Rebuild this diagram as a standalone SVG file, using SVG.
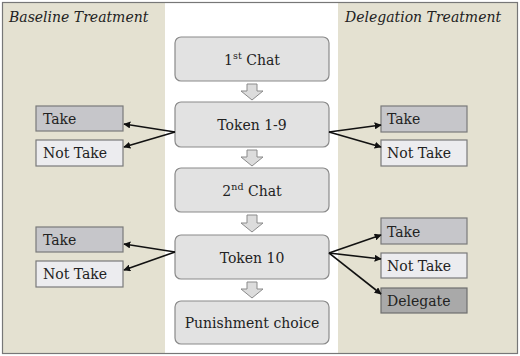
<svg xmlns="http://www.w3.org/2000/svg" width="520" height="356" viewBox="0 0 520 356">
<defs>
<style>
.panel{fill:#e4e1d1;}
.node rect{fill:#e2e2e2;stroke:#8a8a8a;stroke-width:1.2;}
.t{font-family:"DejaVu Serif","Liberation Serif",serif;font-size:14px;fill:#222;}
.title{font-family:"DejaVu Serif","Liberation Serif",serif;font-size:14px;font-style:italic;fill:#222;}
.take rect{fill:#c6c6ca;stroke:#7a7a7a;stroke-width:1.2;}
.nottake rect{fill:#ececef;stroke:#7a7a7a;stroke-width:1.2;}
.deleg rect{fill:#a9a9a9;stroke:#6f6f6f;stroke-width:1.2;}
.conn line{stroke:#111;stroke-width:1.6;}
.blk{fill:#dcdcdc;stroke:#8a8a8a;stroke-width:1;}
</style>
<marker id="ah" viewBox="0 0 10 10" refX="9" refY="5" markerWidth="7" markerHeight="7" orient="auto" markerUnits="userSpaceOnUse">
<path d="M0,0 L10,5 L0,10 z" fill="#111"/>
</marker>
</defs>
<rect x="0" y="0" width="520" height="356" fill="#ffffff"/>
<rect class="panel" x="3" y="3" width="162" height="351"/>
<rect class="panel" x="338" y="3" width="179" height="351"/>
<rect x="2.5" y="2.5" width="515" height="351" fill="none" stroke="#777" stroke-width="1.2"/>
<text class="title" x="9" y="22">Baseline Treatment</text>
<text class="title" x="345" y="22">Delegation Treatment</text>

<g id="chat1" class="node"><rect x="175" y="37" width="154" height="44" rx="6"/><text class="t" x="252" y="65" text-anchor="middle">1<tspan font-size="9.5" dy="-6">st</tspan><tspan dy="6"> Chat</tspan></text></g>
<g id="token19" class="node"><rect x="175" y="102" width="154" height="45" rx="6"/><text class="t" x="252" y="130" text-anchor="middle">Token 1-9</text></g>
<g id="chat2" class="node"><rect x="175" y="168" width="154" height="44" rx="6"/><text class="t" x="252" y="196" text-anchor="middle">2<tspan font-size="9.5" dy="-6">nd</tspan><tspan dy="6"> Chat</tspan></text></g>
<g id="token10" class="node"><rect x="175" y="235" width="154" height="44" rx="6"/><text class="t" x="252" y="263" text-anchor="middle">Token 10</text></g>
<g id="punish" class="node"><rect x="175" y="301" width="154" height="43" rx="6"/><text class="t" x="252" y="328" text-anchor="middle">Punishment choice</text></g>

<g id="blockarrows">
<path class="blk" d="M247,84 h10 v7 h6 l-11,9 l-11,-9 h6 z"/>
<path class="blk" d="M247,150 h10 v7 h6 l-11,9 l-11,-9 h6 z"/>
<path class="blk" d="M247,215 h10 v8 h6 l-11,9 l-11,-9 h6 z"/>
<path class="blk" d="M247,282 h10 v7 h6 l-11,9 l-11,-9 h6 z"/>
</g>

<g id="bl-take1" class="take"><rect x="36" y="106" width="87" height="25"/><text class="t" x="43" y="124">Take</text></g>
<g id="bl-nottake1" class="nottake"><rect x="36" y="140" width="87" height="26"/><text class="t" x="43" y="158">Not Take</text></g>
<g id="bl-take2" class="take"><rect x="36" y="227" width="87" height="25"/><text class="t" x="43" y="245">Take</text></g>
<g id="bl-nottake2" class="nottake"><rect x="36" y="261" width="87" height="26"/><text class="t" x="43" y="279">Not Take</text></g>

<g id="dl-take1" class="take"><rect x="381" y="106" width="86" height="26"/><text class="t" x="387" y="124">Take</text></g>
<g id="dl-nottake1" class="nottake"><rect x="381" y="140" width="86" height="26"/><text class="t" x="387" y="158">Not Take</text></g>
<g id="dl-take2" class="take"><rect x="381" y="218" width="86" height="26"/><text class="t" x="387" y="237">Take</text></g>
<g id="dl-nottake2" class="nottake"><rect x="381" y="253" width="86" height="25"/><text class="t" x="387" y="271">Not Take</text></g>
<g id="dl-delegate" class="deleg"><rect x="381" y="288" width="86" height="25"/><text class="t" x="387" y="306">Delegate</text></g>

<g id="connectors" class="conn">
<line x1="175" y1="132" x2="124" y2="124" marker-end="url(#ah)"/>
<line x1="175" y1="132" x2="124" y2="147" marker-end="url(#ah)"/>
<line x1="329" y1="132" x2="381" y2="125" marker-end="url(#ah)"/>
<line x1="329" y1="132" x2="381" y2="147" marker-end="url(#ah)"/>
<line x1="175" y1="252" x2="124" y2="244" marker-end="url(#ah)"/>
<line x1="175" y1="252" x2="124" y2="270" marker-end="url(#ah)"/>
<line x1="329" y1="253" x2="381" y2="235" marker-end="url(#ah)"/>
<line x1="329" y1="253" x2="381" y2="259" marker-end="url(#ah)"/>
<line x1="329" y1="253" x2="381" y2="294" marker-end="url(#ah)"/>
</g>
</svg>
